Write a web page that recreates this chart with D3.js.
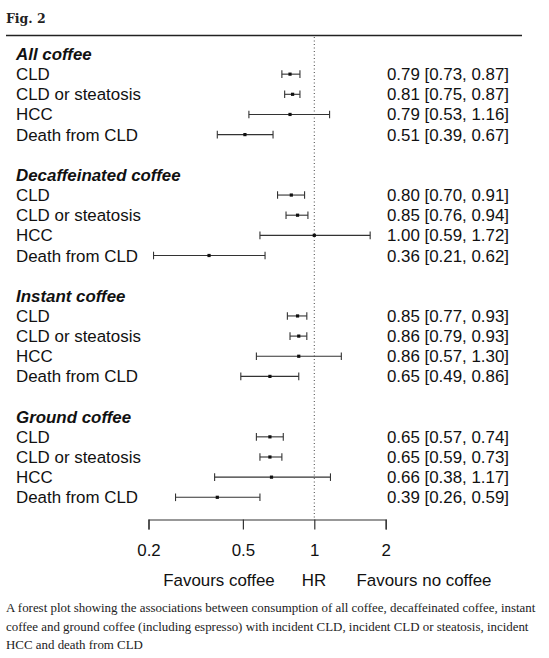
<!DOCTYPE html>
<html><head><meta charset="utf-8">
<script src="https://cdn.jsdelivr.net/npm/d3@7"></script>
<style>
body{margin:0;background:#fff;}
svg{display:block;}
</style></head>
<body>
<svg id="chart" width="549" height="658"></svg>
<script>
const groups = ["All coffee", "Decaffeinated coffee", "Instant coffee", "Ground coffee"];
const outcomes = ["CLD", "CLD or steatosis", "HCC", "Death from CLD"];
const hr = [
  [0.79, 0.81, 0.79, 0.51],
  [0.80, 0.85, 1.00, 0.36],
  [0.85, 0.86, 0.86, 0.65],
  [0.65, 0.65, 0.66, 0.39]
];
const lower = [
  [0.73, 0.75, 0.53, 0.39],
  [0.70, 0.76, 0.59, 0.21],
  [0.77, 0.79, 0.57, 0.49],
  [0.57, 0.59, 0.38, 0.26]
];
const upper = [
  [0.87, 0.87, 1.16, 0.67],
  [0.91, 0.94, 1.72, 0.62],
  [0.93, 0.93, 1.30, 0.86],
  [0.74, 0.73, 1.17, 0.59]
];
const tickValues = [0.2, 0.5, 1, 2];
const caption = [
  "A forest plot showing the associations between consumption of all coffee, decaffeinated coffee, instant",
  "coffee and ground coffee (including espresso) with incident CLD, incident CLD or steatosis, incident",
  "HCC and death from CLD"
];

const svg = d3.select("#chart");
const sans = "'Liberation Sans', Arial, Helvetica, sans-serif";
const serif = "'DejaVu Serif', Georgia, serif";
const capSerif = "'Liberation Serif', 'Times New Roman', serif";
const ink = "#111";
const fs = 16.9;

// header
svg.append("text").attr("x", 6).attr("y", 22.5).text("Fig. 2")
  .attr("font-family", serif).attr("font-weight", "bold").attr("font-size", 12.5).attr("fill", "#222");
svg.append("line").attr("x1", 6).attr("x2", 522).attr("y1", 35.5).attr("y2", 35.5)
  .attr("stroke", "#222").attr("stroke-width", 1.3);

const x = d3.scaleLog().domain([0.2, 2]).range([148.5, 385.7]);
const rowY = i => 54 + i * 20.15;

const rows = [];
groups.forEach((g, gi) => {
  rows.push({type: "head", label: g, idx: gi * 6});
  outcomes.forEach((o, oi) => {
    rows.push({type: "row", label: o, idx: gi * 6 + 1 + oi,
      hr: hr[gi][oi], lo: lower[gi][oi], hi: upper[gi][oi]});
  });
});

// reference dotted line
svg.append("line").attr("x1", x(1)).attr("x2", x(1)).attr("y1", 37).attr("y2", 519)
  .attr("stroke", "#444").attr("stroke-width", 1).attr("stroke-dasharray", "1,2.5");

svg.selectAll("text.lab").data(rows).join("text").attr("class", "lab")
  .attr("x", 16).attr("y", d => rowY(d.idx) + 6)
  .attr("font-family", sans).attr("font-size", fs).attr("fill", ink)
  .attr("font-weight", d => d.type === "head" ? "bold" : "normal")
  .attr("font-style", d => d.type === "head" ? "italic" : "normal")
  .text(d => d.label);

const dr = rows.filter(d => d.type === "row");
const fmt = d3.format(".2f");
svg.selectAll("text.val").data(dr).join("text").attr("class", "val")
  .attr("x", 509).attr("y", d => rowY(d.idx) + 6).attr("text-anchor", "end")
  .attr("font-family", sans).attr("font-size", fs).attr("fill", ink)
  .text(d => `${fmt(d.hr)} [${fmt(d.lo)}, ${fmt(d.hi)}]`);

const ci = svg.append("g").attr("stroke", "#333").attr("stroke-width", 1.1);
ci.selectAll("line.ci").data(dr).join("line").attr("class", "ci")
  .attr("x1", d => x(d.lo)).attr("x2", d => x(d.hi))
  .attr("y1", d => rowY(d.idx)).attr("y2", d => rowY(d.idx));
ci.selectAll("line.capl").data(dr).join("line").attr("class", "capl")
  .attr("x1", d => x(d.lo)).attr("x2", d => x(d.lo))
  .attr("y1", d => rowY(d.idx) - 3.8).attr("y2", d => rowY(d.idx) + 3.8);
ci.selectAll("line.caph").data(dr).join("line").attr("class", "caph")
  .attr("x1", d => x(d.hi)).attr("x2", d => x(d.hi))
  .attr("y1", d => rowY(d.idx) - 3.8).attr("y2", d => rowY(d.idx) + 3.8);
svg.selectAll("rect.pt").data(dr).join("rect").attr("class", "pt")
  .attr("x", d => x(d.hr) - 1.6).attr("y", d => rowY(d.idx) - 1.6)
  .attr("width", 3.2).attr("height", 3.2).attr("fill", "#111");

// axis
const axis = d3.axisBottom(x).tickValues(tickValues).tickFormat(d3.format("")).tickSize(10).tickSizeOuter(10).tickPadding(15);
const ag = svg.append("g").attr("transform", "translate(0,519.5)").call(axis);
ag.selectAll("path,line").attr("stroke", "#333").attr("stroke-width", 1.2);
ag.selectAll("text").attr("font-family", sans).attr("font-size", fs).attr("fill", ink);

const xl = [["Favours coffee", 219], ["HR", 314], ["Favours no coffee", 424]];
svg.selectAll("text.xl").data(xl).join("text").attr("class", "xl")
  .attr("x", d => d[1]).attr("y", 586).attr("text-anchor", "middle")
  .attr("font-family", sans).attr("font-size", fs).attr("fill", ink).text(d => d[0]);

// caption: font size chosen so the first line spans the same width as the reference
const capT = svg.selectAll("text.cap").data(caption).join("text").attr("class", "cap")
  .attr("x", 6).attr("y", (d, i) => 612 + i * 18.5)
  .attr("font-family", capSerif).attr("font-size", 12).attr("fill", "#222").text(d => d);
const w0 = capT.nodes()[0].getComputedTextLength();
capT.attr("font-size", 12 * 530 / w0);
</script>
</body></html>
